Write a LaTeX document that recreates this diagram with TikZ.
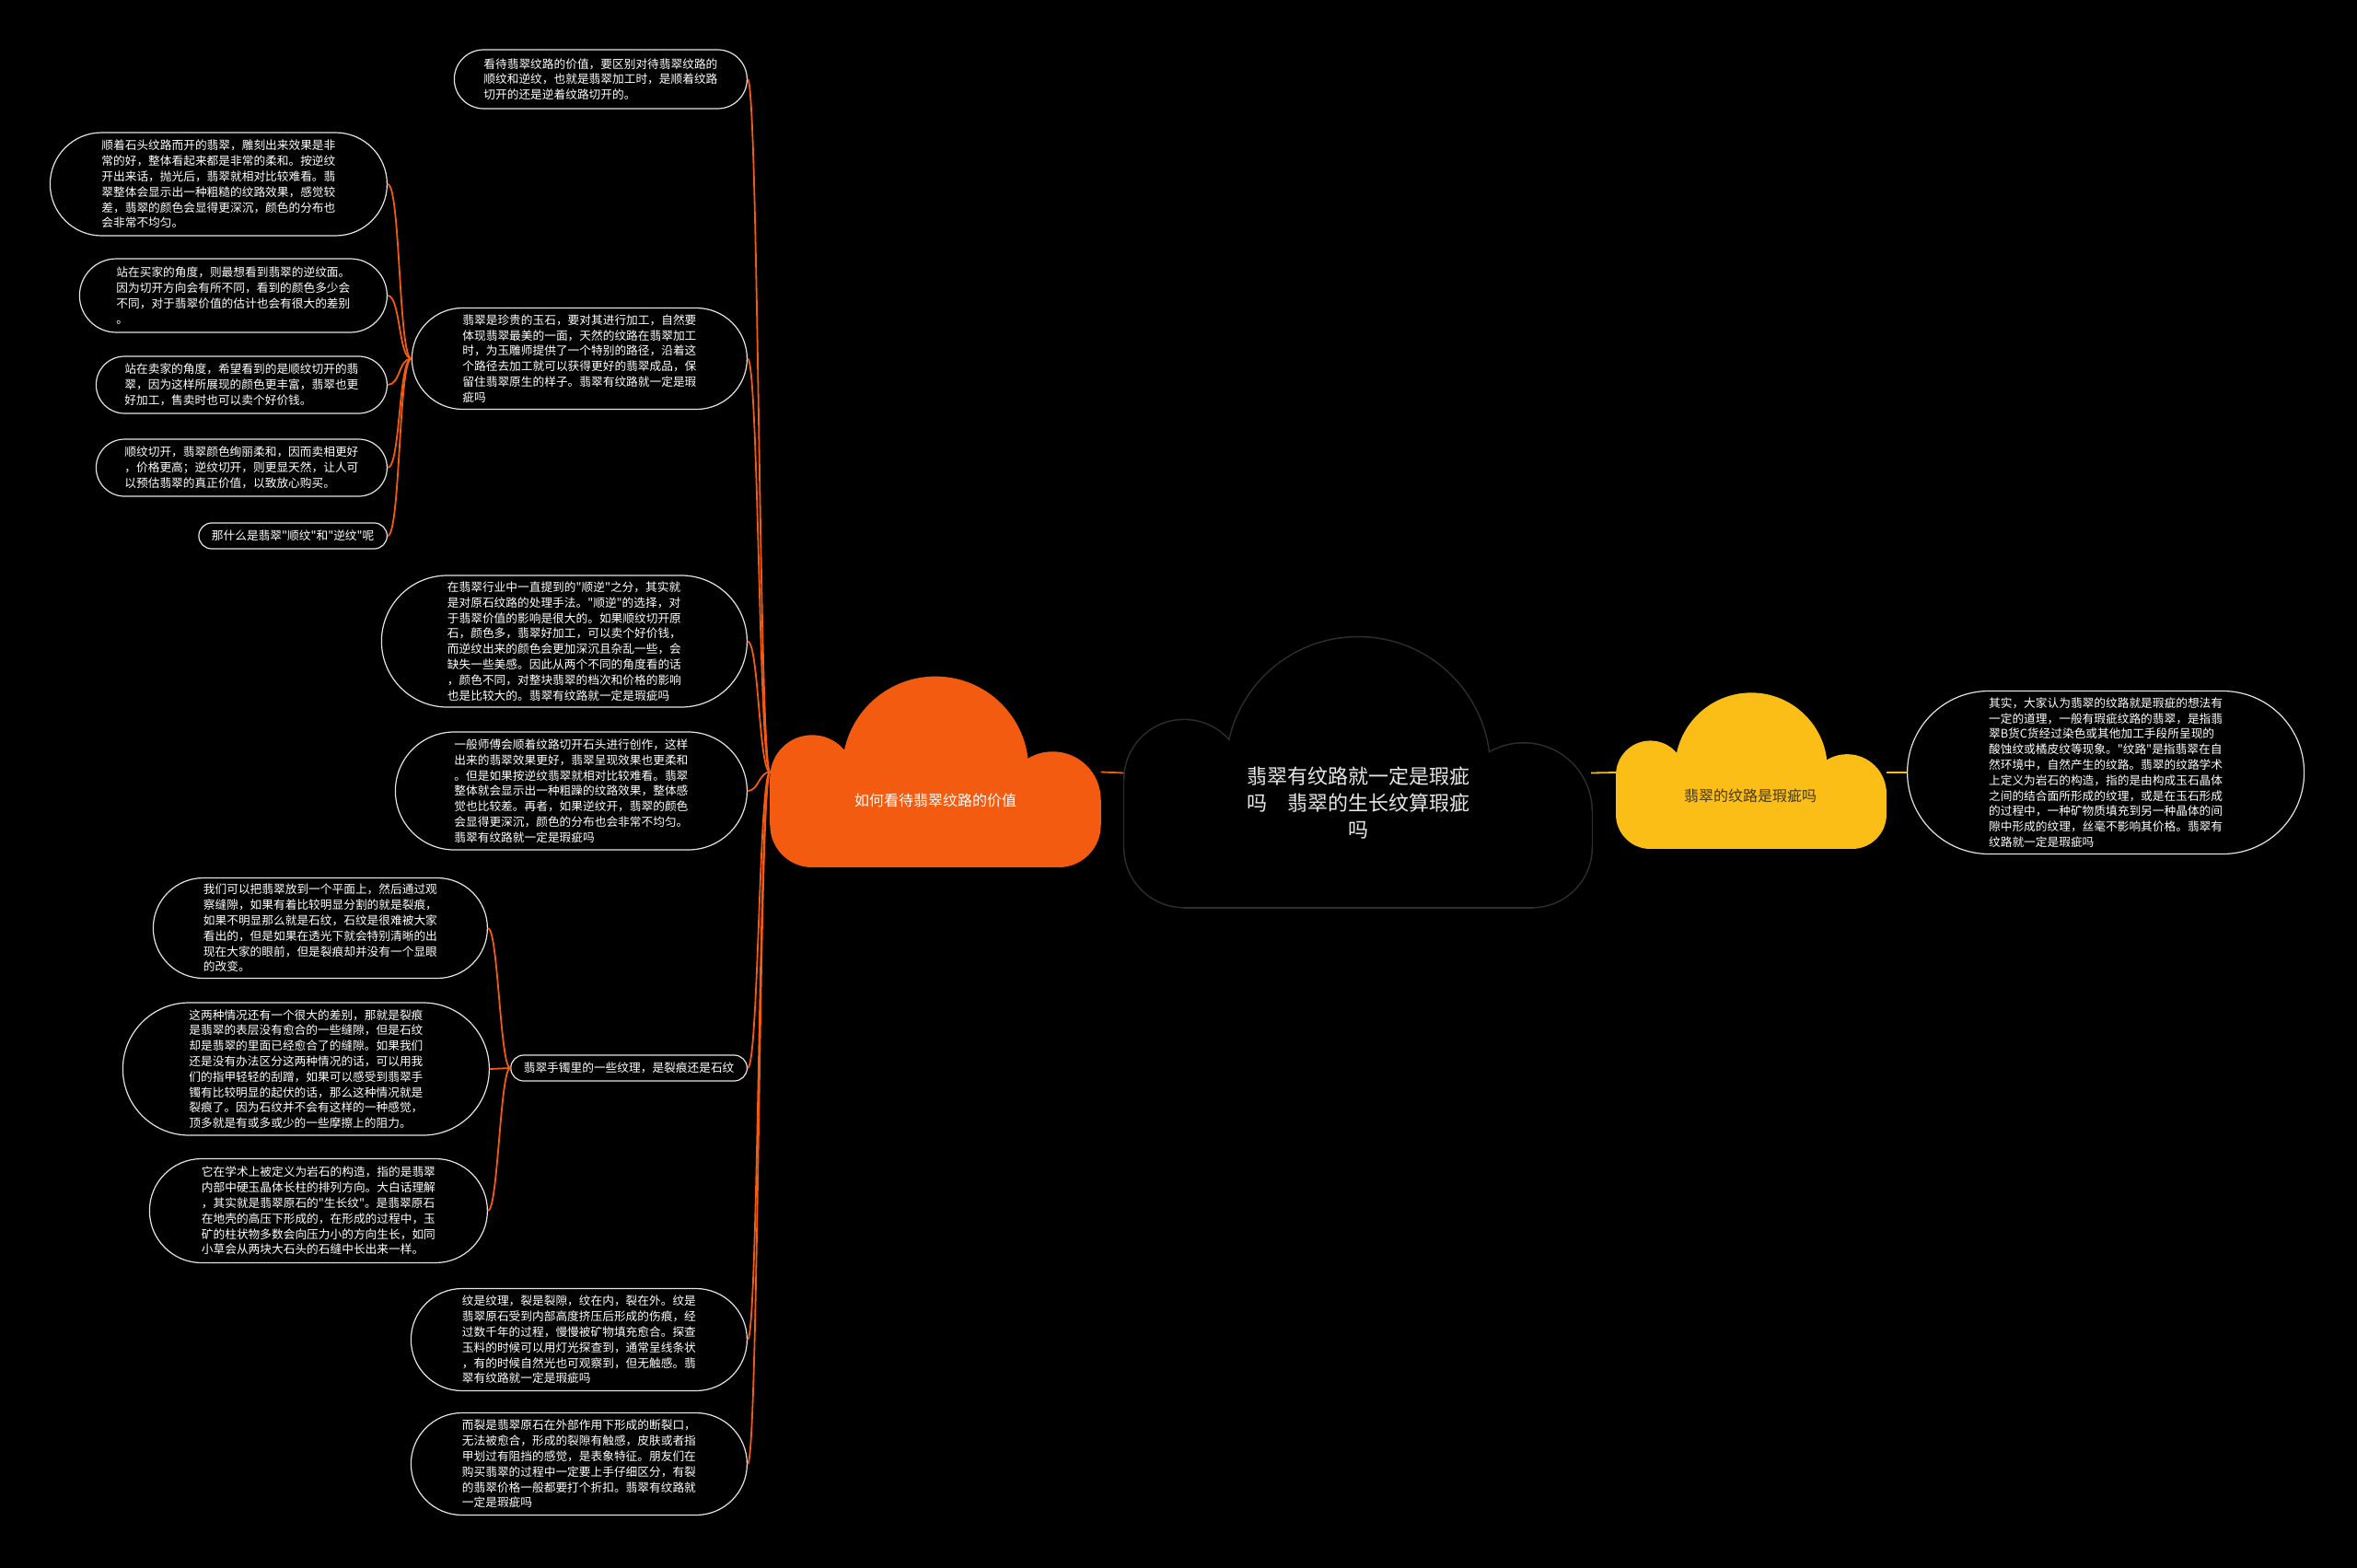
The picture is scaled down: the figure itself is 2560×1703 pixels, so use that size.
\documentclass[tikz,border=0pt]{standalone}
\usepackage{fontspec}
\newfontfamily\cjk{Noto Sans CJK SC}
\usepackage{tikz}
\definecolor{cloudorange}{RGB}{243,92,16}
\definecolor{cloudyellow}{RGB}{250,190,22}
\definecolor{cloudedge}{RGB}{46,46,46}
\definecolor{leafline}{RGB}{228,228,228}
\definecolor{titlegray}{RGB}{232,232,232}
\definecolor{yellowtext}{RGB}{70,55,25}

% cloud in a 220 x 127 box, origin at bottom centre, y up; #1 = path command
\newcommand\cloudparts[1]{%
  #1 (-82,28) circle [radius=28];
  #1 (82,28) circle [radius=28];
  #1 (-82,0) rectangle (82,60);
  #1 (-110,28) rectangle (-54,60);
  #1 (54,28) rectangle (110,45);
  #1 (-82,60) circle [radius=28];
  #1 (0,65) circle [radius=62];
  #1 (78,45) circle [radius=32];}

\begin{document}
\begin{tikzpicture}[
  x=1pt, y=-1pt,
  leaf/.style={rectangle, draw=leafline, line width=1.2pt, fill=black, text=white,
               minimum height=#1, rounded corners=#1/2, inner xsep=#1/2, inner ysep=2pt,
               font=\cjk\fontsize{12.7}{16.8}\selectfont, align=left},
  cloudbox/.style={rectangle, inner sep=0pt},
  ctext/.style={font=\cjk\fontsize{16}{20}\selectfont, inner sep=0pt},
  link/.style={draw=cloudorange, line width=1.8pt},
  ylink/.style={draw=cloudyellow, line width=1.8pt},
  pics/cloudfill/.style={code={\cloudparts{\fill[#1]}}},
  pics/cloudline/.style={code={\cloudparts{\draw[cloudedge, line width=3pt]}\cloudparts{\fill[black]}}},
]
  \fill[black] (0,0) rectangle (2560,1703);

  % cloud boxes
  \node[cloudbox, minimum width=359, minimum height=207] (oc) at (1016,838.5) {};
  \node[cloudbox, minimum width=507, minimum height=291] (cc) at (1474.5,839.5) {};
  \node[cloudbox, minimum width=294, minimum height=166] (yc) at (1902,839) {};

  % left branch
  \node[leaf=64, anchor=east] (n1) at (812,86)
    {看待翡翠纹路的价值，要区别对待翡翠纹路的\\顺纹和逆纹，也就是翡翠加工时，是顺着纹路\\切开的还是逆着纹路切开的。};
  \node[leaf=110, anchor=east] (n2) at (812,389.5)
    {翡翠是珍贵的玉石，要对其进行加工，自然要\\体现翡翠最美的一面，天然的纹路在翡翠加工\\时，为玉雕师提供了一个特别的路径，沿着这\\个路径去加工就可以获得更好的翡翠成品，保\\留住翡翠原生的样子。翡翠有纹路就一定是瑕\\疵吗};
  \node[leaf=143, anchor=east] (n3) at (812,696.5)
    {在翡翠行业中一直提到的"顺逆"之分，其实就\\是对原石纹路的处理手法。"顺逆"的选择，对\\于翡翠价值的影响是很大的。如果顺纹切开原\\石，颜色多，翡翠好加工，可以卖个好价钱，\\而逆纹出来的颜色会更加深沉且杂乱一些，会\\缺失一些美感。因此从两个不同的角度看的话\\，颜色不同，对整块翡翠的档次和价格的影响\\也是比较大的。翡翠有纹路就一定是瑕疵吗};
  \node[leaf=128, anchor=east] (n4) at (812,859)
    {一般师傅会顺着纹路切开石头进行创作，这样\\出来的翡翠效果更好，翡翠呈现效果也更柔和\\。但是如果按逆纹翡翠就相对比较难看。翡翠\\整体就会显示出一种粗躁的纹路效果，整体感\\觉也比较差。再者，如果逆纹开，翡翠的颜色\\会显得更深沉，颜色的分布也会非常不均匀。\\翡翠有纹路就一定是瑕疵吗};
  \node[leaf=28, anchor=east] (n5) at (812,1160)
    {翡翠手镯里的一些纹理，是裂痕还是石纹};
  \node[leaf=111, anchor=east] (n6) at (812,1455)
    {纹是纹理，裂是裂隙，纹在内，裂在外。纹是\\翡翠原石受到内部高度挤压后形成的伤痕，经\\过数千年的过程，慢慢被矿物填充愈合。探查\\玉料的时候可以用灯光探查到，通常呈线条状\\，有的时候自然光也可观察到，但无触感。翡\\翠有纹路就一定是瑕疵吗};
  \node[leaf=111, anchor=east] (n7) at (812,1590)
    {而裂是翡翠原石在外部作用下形成的断裂口，\\无法被愈合，形成的裂隙有触感，皮肤或者指\\甲划过有阻挡的感觉，是表象特征。朋友们在\\购买翡翠的过程中一定要上手仔细区分，有裂\\的翡翠价格一般都要打个折扣。翡翠有纹路就\\一定是瑕疵吗};

  % children of n2
  \node[leaf=112, anchor=east] (a1) at (421,200)
    {顺着石头纹路而开的翡翠，雕刻出来效果是非\\常的好，整体看起来都是非常的柔和。按逆纹\\开出来话，抛光后，翡翠就相对比较难看。翡\\翠整体会显示出一种粗糙的纹路效果，感觉较\\差，翡翠的颜色会显得更深沉，颜色的分布也\\会非常不均匀。};
  \node[leaf=80, anchor=east] (a2) at (421,321)
    {站在买家的角度，则最想看到翡翠的逆纹面。\\因为切开方向会有所不同，看到的颜色多少会\\不同，对于翡翠价值的估计也会有很大的差别\\。};
  \node[leaf=62, anchor=east] (a3) at (421,418)
    {站在卖家的角度，希望看到的是顺纹切开的翡\\翠，因为这样所展现的颜色更丰富，翡翠也更\\好加工，售卖时也可以卖个好价钱。};
  \node[leaf=62, anchor=east] (a4) at (421,508)
    {顺纹切开，翡翠颜色绚丽柔和，因而卖相更好\\，价格更高；逆纹切开，则更显天然，让人可\\以预估翡翠的真正价值，以致放心购买。};
  \node[leaf=28, anchor=east] (a5) at (421,582)
    {那什么是翡翠"顺纹"和"逆纹"呢};

  % children of n5
  \node[leaf=109, anchor=east] (b1) at (530,1008)
    {我们可以把翡翠放到一个平面上，然后通过观\\察缝隙，如果有着比较明显分割的就是裂痕，\\如果不明显那么就是石纹，石纹是很难被大家\\看出的，但是如果在透光下就会特别清晰的出\\现在大家的眼前，但是裂痕却并没有一个显眼\\的改变。};
  \node[leaf=144, anchor=east] (b2) at (532,1161)
    {这两种情况还有一个很大的差别，那就是裂痕\\是翡翠的表层没有愈合的一些缝隙，但是石纹\\却是翡翠的里面已经愈合了的缝隙。如果我们\\还是没有办法区分这两种情况的话，可以用我\\们的指甲轻轻的刮蹭，如果可以感受到翡翠手\\镯有比较明显的起伏的话，那么这种情况就是\\裂痕了。因为石纹并不会有这样的一种感觉，\\顶多就是有或多或少的一些摩擦上的阻力。};
  \node[leaf=113, anchor=east] (b3) at (530,1315)
    {它在学术上被定义为岩石的构造，指的是翡翠\\内部中硬玉晶体长柱的排列方向。大白话理解\\，其实就是翡翠原石的"生长纹"。是翡翠原石\\在地壳的高压下形成的，在形成的过程中，玉\\矿的柱状物多数会向压力小的方向生长，如同\\小草会从两块大石头的石缝中长出来一样。};

  % right branch
  \node[leaf=177, anchor=west] (r1) at (2071,839)
    {其实，大家认为翡翠的纹路就是瑕疵的想法有\\一定的道理，一般有瑕疵纹路的翡翠，是指翡\\翠B货C货经过染色或其他加工手段所呈现的\\酸蚀纹或橘皮纹等现象。"纹路"是指翡翠在自\\然环境中，自然产生的纹路。翡翠的纹路学术\\上定义为岩石的构造，指的是由构成玉石晶体\\之间的结合面所形成的纹理，或是在玉石形成\\的过程中，一种矿物质填充到另一种晶体的间\\隙中形成的纹理，丝毫不影响其价格。翡翠有\\纹路就一定是瑕疵吗};

  % connectors
  \foreach \n in {n1,n2,n3,n4,n5,n6,n7}
    \draw[link] (oc.west) .. controls +(-12,0) and +(12,0) .. (\n.east);
  \foreach \n in {a1,a2,a3,a4,a5}
    \draw[link] (n2.west) .. controls +(-14,0) and +(14,0) .. (\n.east);
  \foreach \n in {b1,b2,b3}
    \draw[link] (n5.west) .. controls +(-11,0) and +(11,0) .. (\n.east);
  \draw[link] (oc.east) -- (cc.west);
  \draw[ylink] (cc.east) -- (yc.west);
  \draw[ylink] (yc.east) -- (r1.west);

  % clouds
  \pic[scale=1.633, yscale=-1] at (1016,942) {cloudfill=cloudorange};
  \pic[scale=2.305, yscale=-1] at (1475,985) {cloudline};
  \pic[scale=1.336, yscale=-1] at (1902,922) {cloudfill=cloudyellow};

  \node[ctext, text=white] (ot) at (1016,869) {如何看待翡翠纹路的价值};
  \node[ctext, text=titlegray, font=\cjk\fontsize{22}{28.6}\selectfont, align=center] (ct) at (1475,872)
    {翡翠有纹路就一定是瑕疵\\吗　翡翠的生长纹算瑕疵\\吗};
  \node[ctext, text=yellowtext] (yt) at (1901,864) {翡翠的纹路是瑕疵吗};
\end{tikzpicture}
\end{document}
